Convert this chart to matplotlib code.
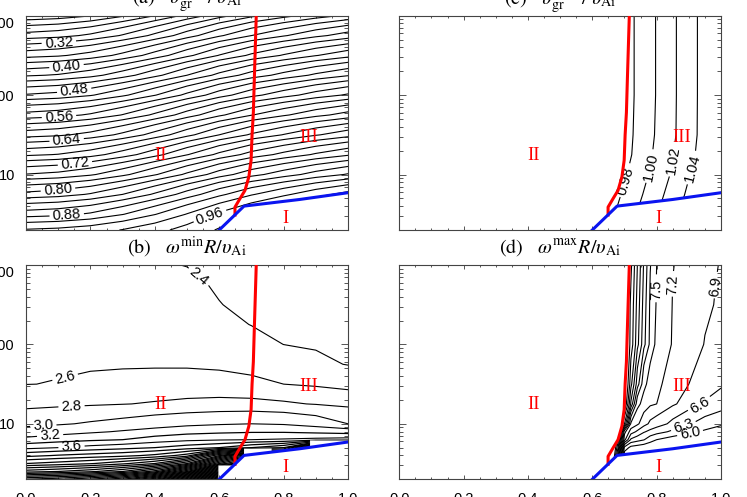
import numpy as np
import matplotlib
matplotlib.use("Agg")
from matplotlib import pyplot as plt
from matplotlib.patches import Polygon
from matplotlib.transforms import ScaledTranslation
from matplotlib import ticker

plt.rcParams['font.family'] = ['Liberation Sans', 'DejaVu Sans']
plt.rcParams['mathtext.fontset'] = 'stix'

# boundaries of the regions I / II / III (same in every panel)
red_x = [0.649, 0.649, 0.665, 0.680, 0.692, 0.699, 0.702, 0.706, 0.709, 0.715]
red_y = [3.09, 3.89, 5.01, 6.31, 9.33, 15.1, 31.6, 60.3, 158.0, 1000.0]
blue_x = [0.60, 0.677, 0.85, 1.0]
blue_y = [2.0, 4.0, 4.85, 5.9]

# (a) v_gr^min / v_Ai
xa = [0.0, 0.1, 0.2, 0.3, 0.4, 0.5, 0.6, 0.7, 0.8, 0.9, 1.0]
ya = [2.0, 3.16, 5.62, 10.0, 17.8, 31.6, 56.2, 100.0, 178.0, 316.0, 562.0, 1000.0]
za = [
    [0.922, 0.925, 0.931, 0.941, 0.953, 0.968, 0.982, 0.995, 1.005, 1.014, 1.022],
    [0.870, 0.874, 0.883, 0.899, 0.919, 0.941, 0.963, 0.982, 0.998, 1.012, 1.024],
    [0.806, 0.811, 0.822, 0.840, 0.863, 0.889, 0.915, 0.938, 0.956, 0.973, 0.987],
    [0.741, 0.746, 0.757, 0.775, 0.798, 0.824, 0.850, 0.873, 0.891, 0.908, 0.922],
    [0.676, 0.681, 0.692, 0.710, 0.733, 0.759, 0.785, 0.808, 0.826, 0.843, 0.857],
    [0.611, 0.616, 0.627, 0.645, 0.668, 0.694, 0.720, 0.743, 0.761, 0.778, 0.792],
    [0.547, 0.552, 0.563, 0.581, 0.604, 0.630, 0.656, 0.679, 0.697, 0.714, 0.728],
    [0.482, 0.487, 0.498, 0.516, 0.539, 0.565, 0.591, 0.614, 0.632, 0.649, 0.663],
    [0.417, 0.422, 0.433, 0.451, 0.474, 0.500, 0.526, 0.549, 0.567, 0.584, 0.598],
    [0.352, 0.357, 0.368, 0.386, 0.409, 0.435, 0.461, 0.484, 0.502, 0.519, 0.533],
    [0.288, 0.293, 0.304, 0.322, 0.345, 0.371, 0.397, 0.420, 0.438, 0.455, 0.469],
    [0.223, 0.228, 0.239, 0.257, 0.280, 0.306, 0.332, 0.355, 0.373, 0.390, 0.404],
]
lev_a = np.round(np.arange(0.20, 1.041, 0.02), 2)
lab_a = [0.32, 0.40, 0.48, 0.56, 0.64, 0.72, 0.80, 0.88, 0.96]

# (b) omega^min R / v_Ai
xb = [0.0, 0.1, 0.2, 0.3, 0.4, 0.5, 0.6, 0.7, 0.8, 0.9, 1.0]
yb = [2.0, 2.51, 3.16, 3.98, 5.01, 6.31, 7.94, 10.0, 17.8, 31.6, 56.2, 100.0, 178.0, 316.0, 562.0, 1000.0]
zb = [
    [6.20, 6.35, 6.60, 7.00, 7.80, 9.20, 11.0, 11.0, 11.0, 11.0, 11.0],
    [5.10, 5.20, 5.35, 5.60, 6.10, 7.20, 9.00, 9.50, 9.50, 9.50, 9.50],
    [4.40, 4.48, 4.58, 4.75, 5.00, 5.60, 7.00, 8.00, 8.00, 8.00, 8.00],
    [3.94, 4.02, 4.08, 4.14, 4.25, 4.50, 5.60, 6.80, 5.50, 7.00, 7.00],
    [3.54, 3.60, 3.67, 3.73, 3.80, 3.90, 4.00, 4.20, 4.40, 6.00, 6.00],
    [3.25, 3.31, 3.36, 3.40, 3.49, 3.55, 3.58, 3.60, 3.62, 3.65, 3.68],
    [3.08, 3.12, 3.17, 3.22, 3.27, 3.33, 3.36, 3.38, 3.38, 3.35, 3.31],
    [2.95, 2.98, 3.02, 3.06, 3.11, 3.15, 3.18, 3.20, 3.18, 3.11, 3.00],
    [2.736, 2.758, 2.776, 2.794, 2.815, 2.838, 2.851, 2.848, 2.824, 2.790, 2.752],
    [2.597, 2.606, 2.629, 2.647, 2.660, 2.666, 2.661, 2.638, 2.600, 2.568, 2.521],
    [2.576, 2.577, 2.579, 2.581, 2.581, 2.579, 2.566, 2.538, 2.498, 2.437, 2.393],
    [2.555, 2.554, 2.553, 2.553, 2.549, 2.543, 2.512, 2.462, 2.399, 2.380, 2.364],
    [2.534, 2.530, 2.528, 2.524, 2.516, 2.508, 2.458, 2.395, 2.372, 2.353, 2.336],
    [2.512, 2.507, 2.502, 2.496, 2.484, 2.472, 2.404, 2.370, 2.344, 2.325, 2.307],
    [2.491, 2.483, 2.476, 2.468, 2.452, 2.436, 2.381, 2.345, 2.317, 2.298, 2.279],
    [2.470, 2.460, 2.450, 2.440, 2.420, 2.395, 2.360, 2.320, 2.290, 2.270, 2.250],
]
lev_b = np.round(np.arange(2.4, 10.81, 0.2), 1)
lab_b = [2.4, 2.6, 2.8, 3.0, 3.2, 3.6]

# (c) v_gr^max / v_Ai
xc = [0.6, 0.7, 0.8, 0.9, 1.0]
yc = [2.0, 3.16, 5.62, 10.0, 17.8, 31.6, 100.0, 1000.0]
zc = [
    [0.965, 0.995, 1.025, 1.056, 1.086],
    [0.959, 0.989, 1.019, 1.050, 1.080],
    [0.953, 0.983, 1.013, 1.044, 1.074],
    [0.947, 0.977, 1.007, 1.038, 1.068],
    [0.943, 0.973, 1.004, 1.034, 1.064],
    [0.942, 0.972, 1.002, 1.032, 1.063],
    [0.941, 0.971, 1.001, 1.032, 1.062],
    [0.941, 0.971, 1.001, 1.032, 1.062],
]
lev_c = [0.98, 1.00, 1.02, 1.04]
lab_c = [0.98, 1.00, 1.02, 1.04]

# (d) omega^max R / v_Ai
xd = [0.66, 0.68, 0.70, 0.72, 0.74, 0.76, 0.78, 0.80, 0.85, 0.90, 0.95, 1.0]
yd = [3.16, 3.98, 5.01, 6.31, 7.94, 10.0, 17.8, 31.6, 100.0, 316.0, 1000.0]
zd = [
    [10.4, 8.0, 5.6, 5.5, 5.5, 5.5, 5.5, 5.5, 5.5, 5.5, 5.5, 5.5],
    [10.5, 8.5, 5.8, 5.7, 5.65, 5.6, 5.6, 5.6, 5.55, 5.5, 5.5, 5.5],
    [10.6, 9.0, 6.2, 5.9, 5.85, 5.8, 5.78, 5.75, 5.7, 5.65, 5.6, 5.55],
    [10.6, 9.5, 7.3, 6.55, 6.42, 6.32, 6.12, 6.0, 5.85, 5.75, 5.68, 5.62],
    [10.6, 10.0, 7.6, 7.05, 6.84, 6.63, 6.52, 6.42, 6.24, 6.08, 5.95, 5.85],
    [10.6, 10.2, 9.0, 7.45, 7.26, 7.02, 6.84, 6.75, 6.52, 6.33, 6.18, 6.05],
    [10.6, 10.4, 10.0, 8.65, 7.6, 7.38, 7.25, 7.2, 6.95, 6.75, 6.58, 6.48],
    [10.6, 10.4, 10.2, 9.1, 8.25, 7.6, 7.36, 7.26, 7.08, 6.9, 6.76, 6.64],
    [10.6, 10.4, 10.1, 9.5, 8.8, 8.2, 7.72, 7.41, 7.18, 7.02, 6.89, 6.8],
    [10.6, 10.4, 10.0, 9.55, 8.9, 8.28, 7.75, 7.47, 7.19, 7.07, 6.96, 6.85],
    [10.6, 10.4, 10.1, 9.67, 9.0, 8.37, 7.82, 7.5, 7.21, 7.1, 7.0, 6.88],
]
lev_d = np.round(np.arange(6.0, 9.61, 0.3), 1)
lab_d = [6.0, 6.3, 6.6, 6.9, 7.2, 7.5]

# where the contour labels sit
pos_a = [(0.103, 417), (0.127, 207), (0.152, 95.5), (0.103, 50.1), (0.127, 25.1),
         (0.152, 13.8), (0.10, 5.75), (0.127, 2.88), (0.571, 3.0)]
pos_b = [(0.53, 661), (0.127, 30.9), (0.142, 14.5), (0.054, 9.1), (0.075, 7.0), (0.142, 4.6)]
pos_c = [(0.696, 8.4), (0.779, 12.3), (0.853, 15.1), (0.919, 11.7)]
pos_d = [(0.904, 7.6), (0.883, 9.4), (0.935, 17.0), (0.985, 537), (0.852, 562), (0.80, 490)]

# visible areas (the field is blanked in region I, and in II for c,d)
clip_above_blue = ([(-0.1, 1.0), (blue_x[0], 1.0)] + list(zip(blue_x, blue_y))
                   + [(1.1, blue_y[-1]), (1.1, 5000), (-0.1, 5000)])
clip_b = [(-0.1, 1.0), (0.597, 1.0), (0.597, 3.0), (0.645, 3.0), (0.677, 4.0), (0.677, 4.9),
          (0.763, 4.9), (0.763, 4.4), (0.85, 4.85), (0.882, 5.06), (0.882, 6.2), (1.1, 6.2),
          (1.1, 5000), (-0.1, 5000)]
clip_III = (list(zip(red_x, red_y)) + [(red_x[-1], 5000), (1.1, 5000), (1.1, blue_y[-1])]
            + list(zip(blue_x[::-1], blue_y[::-1]))[1:3])

fig = plt.figure(figsize=(7.47, 4.97), dpi=100)
ax_a = fig.add_axes([0.0348, 0.5372, 0.4311, 0.4312])
ax_c = fig.add_axes([0.5345, 0.5372, 0.4307, 0.4312])
ax_b = fig.add_axes([0.0348, 0.0356, 0.4311, 0.4312])
ax_d = fig.add_axes([0.5345, 0.0356, 0.4307, 0.4312])


def style(ax, left, bottom):
    ax.set_xlim(0, 1)
    ax.set_yscale('log')
    ax.set_ylim(2, 1000)
    ax.xaxis.set_major_locator(ticker.MultipleLocator(0.2))
    ax.xaxis.set_minor_locator(ticker.MultipleLocator(0.05))
    ax.xaxis.set_major_formatter(ticker.FormatStrFormatter('%.1f'))
    ax.yaxis.set_major_locator(ticker.LogLocator(base=10, numticks=10))
    ax.yaxis.set_minor_locator(ticker.LogLocator(base=10, subs=range(2, 10), numticks=10))
    ax.yaxis.set_major_formatter(ticker.FormatStrFormatter('%g'))
    ax.yaxis.set_minor_formatter(ticker.NullFormatter())
    ax.tick_params(which='both', direction='in', top=True, right=True,
                   color='#555555', width=0.7, labelsize=10.5,
                   labelleft=left, labelbottom=bottom)
    ax.tick_params(axis='x', which='major', length=3, pad=9)
    ax.tick_params(axis='x', which='minor', length=1.6)
    ax.tick_params(axis='y', which='major', length=5, pad=8)
    ax.tick_params(axis='y', which='minor', length=2.6)
    for s in ax.spines.values():
        s.set_color('#444444')
        s.set_linewidth(0.8)


def panel(ax, x, y, z, levels, lab, pos, fmt, clip_verts, title, lw=0.8):
    clip = Polygon(clip_verts, closed=True, transform=ax.transData)
    plain = [v for v in levels if v not in lab]
    if plain:
        cs = ax.contour(x, y, z, levels=plain, colors='black', linewidths=lw)
        cs.set_clip_path(clip)
    # labelled levels drawn as their own set so clabel can break them
    cl = ax.contour(x, y, z, levels=lab, colors='black', linewidths=0.8)
    cl.set_clip_path(clip)
    ax.clabel(cl, manual=pos, fmt=fmt, fontsize=10.5, inline=True, inline_spacing=3)
    ax.plot(red_x, red_y, color='#ff0000', lw=2.2, zorder=4)
    ax.plot(blue_x, blue_y, color='#0a14f0', lw=2.2, zorder=4)
    for txt, xx, yy in [('I', 0.805, 2.8), ('II', 0.417, 17.3), ('III', 0.877, 29.5)]:
        ax.text(xx, yy, txt, color='#ff0000', fontsize=13.5, family='Liberation Serif',
                ha='center', va='center', zorder=5)
    ax.text(0.5, 1.054, title, transform=ax.transAxes, ha='center', va='baseline',
            fontsize=14.5, family='STIXGeneral')


style(ax_a, True, False)
style(ax_c, False, False)
style(ax_b, True, True)
style(ax_d, False, True)

panel(ax_a, xa, ya, za, lev_a, lab_a, pos_a, '%.2f', clip_above_blue,
      r'(a)   $\upsilon_{\rm gr}^{\rm min}\;$/$\;\upsilon_{\rm Ai}$')
panel(ax_b, xb, yb, zb, lev_b, lab_b, pos_b, '%.1f', clip_b,
      r'(b)   $\omega^{\rm min}R/\upsilon_{\rm Ai}$', lw=0.9)
panel(ax_c, xc, yc, zc, lev_c, lab_c, pos_c, '%.2f', clip_III,
      r'(c)   $\upsilon_{\rm gr}^{\rm max}\;$/$\;\upsilon_{\rm Ai}$')
panel(ax_d, xd, yd, zd, lev_d, lab_d, pos_d, '%.1f', clip_III,
      r'(d)   $\omega^{\rm max}R/\upsilon_{\rm Ai}$')

# the top label (1000) sits a little lower than its tick, as in the original
fig.canvas.draw()
for ax in (ax_a, ax_b):
    for t in ax.yaxis.get_major_ticks():
        if abs(t.get_loc() - 1000) < 1:
            t.label1.set_transform(t.label1.get_transform()
                                   + ScaledTranslation(0, -5 / 72, fig.dpi_scale_trans))

fig.savefig('out.png', dpi=100)
